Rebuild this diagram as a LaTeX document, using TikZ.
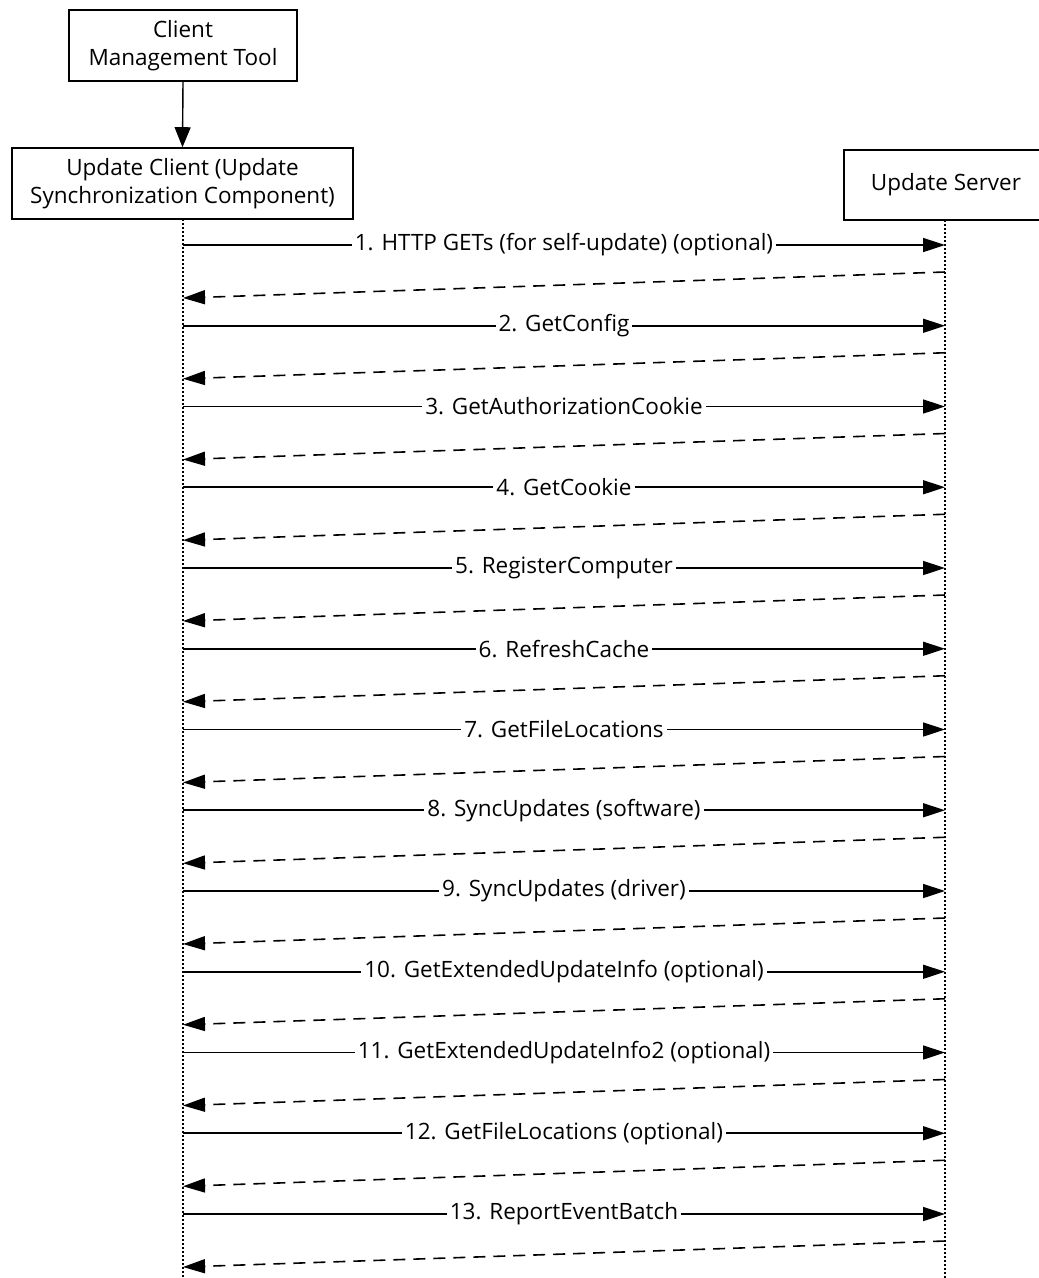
\documentclass[tikz,border=0pt]{standalone}
\usepackage{fontspec}
\setmainfont{Open Sans}
\usetikzlibrary{arrows.meta}
\begin{document}
\begin{tikzpicture}[x=1pt,y=-1pt,
  box/.style={draw,line width=1.6pt,align=center,font=\fontsize{22.5}{28}\selectfont,inner sep=0pt},
  life/.style={line width=1.1pt,dash pattern=on 2pt off 2pt},
  call/.style={line width=1.6pt,-{Triangle[length=22pt,width=14pt]}},
  reply/.style={line width=1.6pt,dash pattern=on 12pt off 8pt,-{Triangle[length=22pt,width=14pt]}},
  lbl/.style={fill=white,inner xsep=3pt,inner ysep=1pt,font=\fontsize{22.5}{26}\selectfont}]
\clip (0,0) rectangle (1039,1278);
\fill[white] (0,0) rectangle (1039,1278);
\node[box,minimum width=228pt,minimum height=71pt] (cmt) at (183,45.5) {Client\\Management Tool};
\node[box,minimum width=341pt,minimum height=71pt] (uc) at (182.5,183.5) {Update Client (Update\\Synchronization Component)};
\node[box,minimum width=204pt,minimum height=70pt] (us) at (946,185) {Update Server};
\draw[line width=1.4pt,-{Triangle[length=20pt,width=16pt]}] (cmt.south) -- (uc.north);
\coordinate (cEnd) at (183,1278);
\coordinate (sEnd) at (945,1278);
\coordinate (cTop) at (183,219);
\coordinate (sTop) at (945,220);
\draw[life] (cTop) -- (cEnd);
\draw[life] (sTop) -- (sEnd);
\foreach \i/\t in {1/{1. HTTP GETs (for self-update) (optional)},2/{2. GetConfig},3/{3. GetAuthorizationCookie},4/{4. GetCookie},5/{5. RegisterComputer},6/{6. RefreshCache},7/{7. GetFileLocations},8/{8. SyncUpdates (software)},9/{9. SyncUpdates (driver)},10/{10. GetExtendedUpdateInfo (optional)},11/{11. GetExtendedUpdateInfo2 (optional)},12/{12. GetFileLocations (optional)},13/{13. ReportEventBatch}}{
  \pgfmathsetmacro{\yy}{245+(\i-1)*80.75}
  \coordinate (c\i) at (183,\yy);
  \coordinate (s\i) at (945,\yy);
  \coordinate (r\i) at (945,\yy+27);
  \coordinate (q\i) at (183,\yy+53);
  \draw[call] (c\i) -- node[lbl] {\t} (s\i);
  \draw[reply] (r\i) -- (q\i);
}
\end{tikzpicture}
\end{document}
